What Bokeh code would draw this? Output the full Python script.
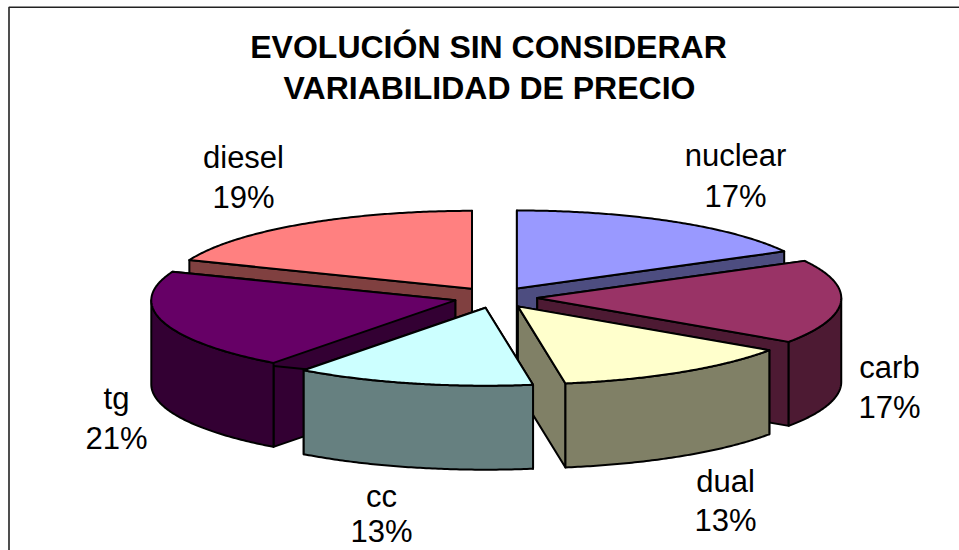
import numpy as np
from bokeh.plotting import figure
from bokeh.models import Range1d, ColumnDataSource
from bokeh.core.properties import value
from bokeh.embed import file_html
from bokeh.resources import INLINE

# ---- data ----
title_lines = ["EVOLUCIÓN SIN CONSIDERAR", "VARIABILIDAD DE PRECIO"]
categories = ["nuclear", "carb", "dual", "cc", "tg", "diesel"]
shares = [17.1, 17.4, 13.0, 12.7, 20.8, 19.0]

# ---- styles ----
top_colors = ["#9999FF", "#993366", "#FFFFCC", "#CCFFFF", "#660066", "#FF8080"]
side_colors = ["#4D4D80", "#4D1A33", "#808066", "#668080", "#330033", "#804040"]
draw_order = ["diesel", "nuclear", "tg", "carb", "dual", "cc"]

# ---- layout (page pixels) ----
CX, CY = 495.0, 297.0      # pie centre
RX, RY = 304.0, 78.0       # ellipse radii
EX, EY = 41.8, 10.5        # explosion
DEPTH = 84.0
label_pos = {"nuclear": (735, 155, 196), "carb": (889, 367, 407), "dual": (725, 481, 520),
             "cc": (381, 496, 531), "tg": (116, 398, 438), "diesel": (243, 157, 197)}

p = figure(width=959, height=550, output_backend="svg", toolbar_location=None,
           x_range=Range1d(0, 959), y_range=Range1d(550, 0),
           x_axis_type=None, y_axis_type=None, min_border=0, outline_line_color=None)
p.grid.visible = False

cum = np.cumsum([0] + shares) / sum(shares) * 2 * np.pi
xs, ys, fills = [], [], []


def add(px, py, color):
    xs.append(list(px)); ys.append(list(py)); fills.append(color)


for name in draw_order:
    i = categories.index(name)
    a0, a1 = cum[i], cum[i + 1]
    mid = (a0 + a1) / 2
    ax = CX + EX * np.sin(mid)
    ay = CY - EY * np.cos(mid)
    for a in (a0, a1):        # radial cut faces
        ex, ey = ax + RX * np.sin(a), ay - RY * np.cos(a)
        add([ax, ex, ex, ax], [ay, ey, ey + DEPTH, ay + DEPTH], side_colors[i])
    f0, f1 = max(a0, np.pi / 2), min(a1, 3 * np.pi / 2)
    if f1 > f0:               # outer rim, front part only
        t = np.linspace(f0, f1, 80)
        rx_, ry_ = ax + RX * np.sin(t), ay - RY * np.cos(t)
        add(np.r_[rx_, rx_[::-1]], np.r_[ry_, ry_[::-1] + DEPTH], side_colors[i])
    t = np.linspace(a0, a1, 120)  # top face
    add(np.r_[ax, ax + RX * np.sin(t)], np.r_[ay, ay - RY * np.cos(t)], top_colors[i])

p.patches("x", "y", source=ColumnDataSource(dict(x=xs, y=ys, c=fills)), fill_color="c",
          line_color="black", line_width=2, line_join="round")

# chart frame (the bottom and right edges fall outside the window)
p.line([8.5, 8.5, 959], [550, 6.8, 6.8], line_color="#222222", line_width=1.6)

FONT = value("Liberation Sans")
p.text([488, 489], [46, 87], text=title_lines, text_font=FONT, text_font_size=value("32px"),
       text_font_style="bold", text_align="center", text_baseline="middle", text_color="black")

lx, ly, lt = [], [], []
for name, share in zip(categories, shares):
    x, y1, y2 = label_pos[name]
    lx += [x, x]; ly += [y1, y2]; lt += [name, f"{round(share)}%"]
p.text(lx, ly, text=lt, text_font=FONT, text_font_size=value("31px"), text_align="center",
       text_baseline="middle", text_color="black")

open("out.html", "w").write(file_html(p, INLINE))
